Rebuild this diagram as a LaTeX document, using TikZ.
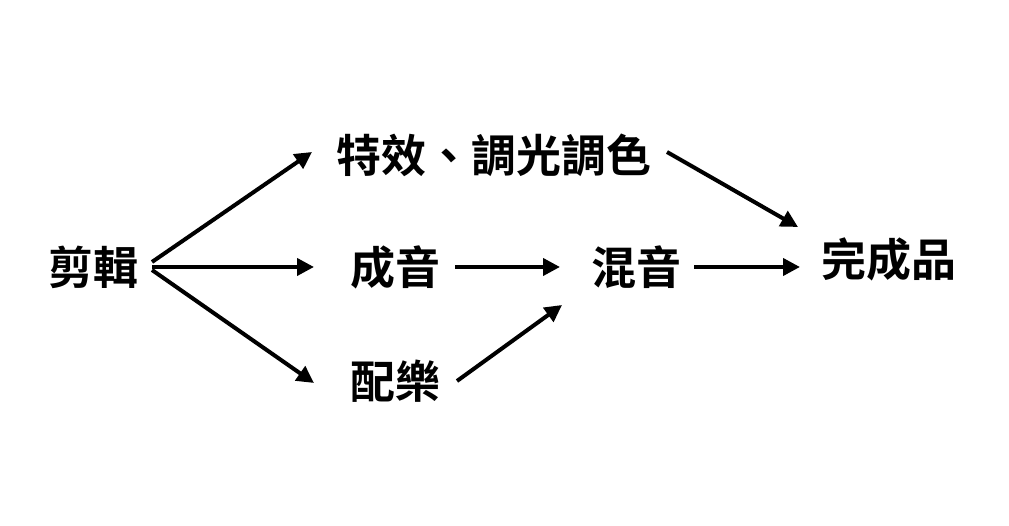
\documentclass[tikz,border=0pt]{standalone}
\usepackage{fontspec}
\newfontfamily\cjk{Noto Sans CJK TC}[BoldFont={Noto Sans CJK TC Bold}]
\usetikzlibrary{arrows.meta}
\begin{document}
\begin{tikzpicture}[x=1pt,y=1pt,
  lbl/.style={inner sep=0pt, font=\cjk\bfseries\fontsize{45}{50}\selectfont},
  arr/.style={line width=4pt, -{Triangle[length=17pt,width=17pt]}}]
\useasboundingbox[fill=white] (0,0) rectangle (1009,526);
\node[lbl] (jj) at (93,259) {剪輯};
\node[lbl] (tx) at (494,371) {特效、調光調色};
\node[lbl] (cy) at (395,259) {成音};
\node[lbl] (pl) at (395,145) {配樂};
\node[lbl] (hy) at (636,259) {混音};
\node[lbl] (wc) at (889,267) {完成品};
\draw[arr] ([shift={(59,5)}]jj.center) -- ([shift={(-182,3)}]tx.center);
\draw[arr] ([shift={(59,0)}]jj.center) -- ([shift={(-81,0)}]cy.center);
\draw[arr] ([shift={(59,-3)}]jj.center) -- ([shift={(-81,-2)}]pl.center);
\draw[arr] ([shift={(60,0)}]cy.center) -- ([shift={(-76,0)}]hy.center);
\draw[arr] ([shift={(62,0)}]pl.center) -- ([shift={(-74,-38)}]hy.center);
\draw[arr] ([shift={(173,3)}]tx.center) -- ([shift={(-91,32)}]wc.center);
\draw[arr] ([shift={(58,0)}]hy.center) -- ([shift={(-89,-8)}]wc.center);
\end{tikzpicture}
\end{document}
